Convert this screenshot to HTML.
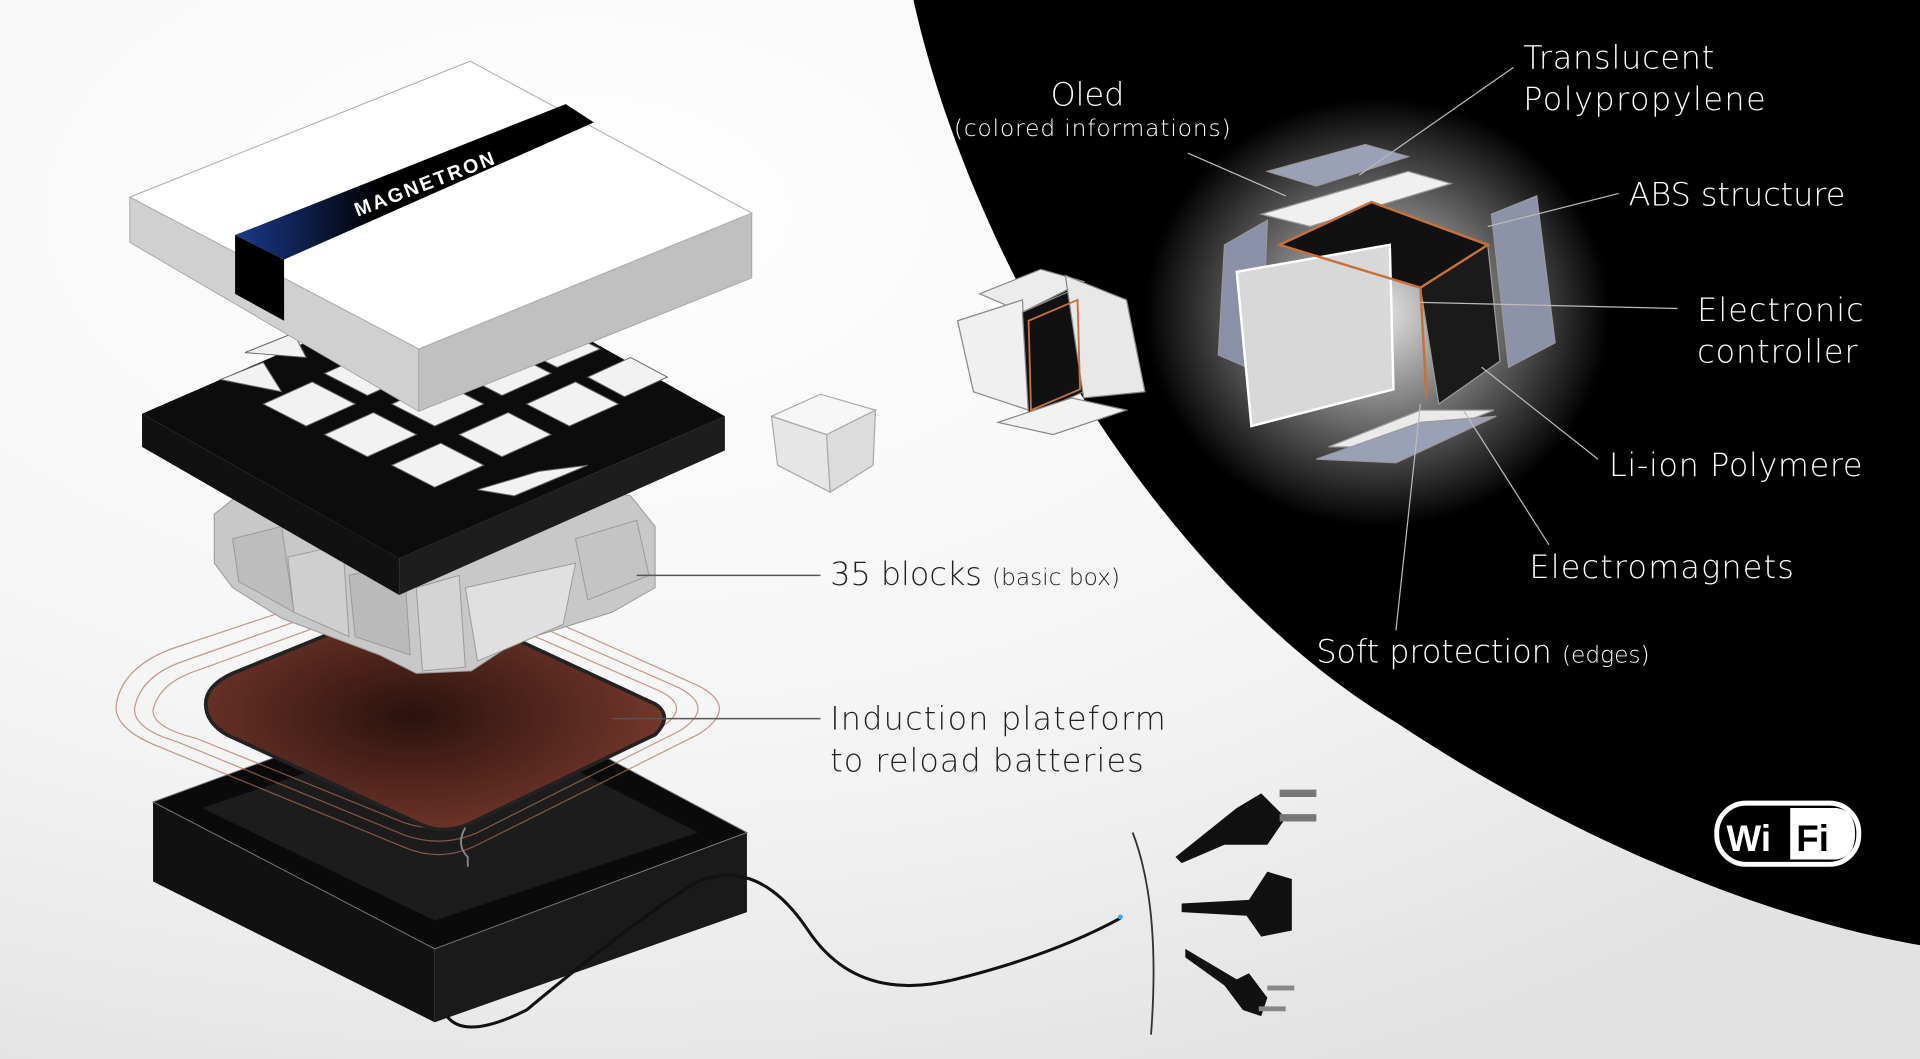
<!DOCTYPE html>
<html><head><meta charset="utf-8"><style>
html,body{margin:0;padding:0;width:1920px;height:1059px;overflow:hidden;background:#fff}
svg{display:block}
text{font-family:"DejaVu Sans","Liberation Sans",sans-serif;font-weight:300}
text.b{font-family:"Liberation Sans",sans-serif;font-weight:bold}
</style></head><body>
<svg width="1920" height="1059" viewBox="0 0 1568 865" preserveAspectRatio="none" xmlns="http://www.w3.org/2000/svg">
<defs>
<radialGradient id="bg" cx="0.3" cy="0.2" r="0.9"><stop offset="0" stop-color="#ffffff"/><stop offset="0.6" stop-color="#f4f4f4"/><stop offset="1" stop-color="#e2e2e2"/></radialGradient>
<radialGradient id="plate" cx="0.45" cy="0.5" r="0.6"><stop offset="0" stop-color="#2a120c"/><stop offset="1" stop-color="#7a3a2e"/></radialGradient>
<radialGradient id="glow" cx="0.5" cy="0.5" r="0.5"><stop offset="0" stop-color="#fff" stop-opacity="0.9"/><stop offset="0.6" stop-color="#fff" stop-opacity="0.35"/><stop offset="1" stop-color="#fff" stop-opacity="0"/></radialGradient>
<linearGradient id="blue" x1="0" y1="0" x2="1" y2="0"><stop offset="0" stop-color="#1a3a8a"/><stop offset="0.4" stop-color="#000"/><stop offset="1" stop-color="#000"/></linearGradient>
</defs>
<rect width="1568" height="865" fill="url(#bg)"/>
<path d="M746,0 C790,200 940,470 1140,590 C1290,690 1450,752 1568,772 L1568,0 Z" fill="#000"/>

<!-- base box -->
<polygon points="125,655 125,720 355,835 355,775" fill="#111"/>
<polygon points="355,775 355,835 610,745 610,680" fill="#1a1a1a"/>
<polygon points="125,655 385,560 610,680 355,775" fill="#0a0a0a" stroke="#777" stroke-width="0.8"/>
<polygon points="165,660 385,585 570,680 355,752" fill="#1c1c1c"/>
<g fill="none" stroke="#b07060" stroke-width="1" opacity="0.7">
<path d="M95,575 Q100,545 140,530 L320,470 Q350,462 380,475 L570,560 Q605,578 570,600 L390,690 Q360,705 330,692 L130,610 Q92,595 95,575Z"/>
<path d="M110,578 Q115,552 150,540 L320,480 Q350,472 380,485 L555,562 Q585,578 555,597 L390,680 Q360,693 330,682 L145,606 Q108,595 110,578Z"/>
<path d="M125,580 Q130,558 160,548 L320,490 Q350,482 380,495 L540,565 Q565,578 540,594 L390,670 Q360,682 330,672 L160,603 Q124,594 125,580Z"/>
</g>
<path d="M168,575 Q168,560 190,550 L325,495 Q345,488 365,496 L535,575 Q550,585 535,600 L385,672 Q365,682 345,674 L185,600 Q168,590 168,575Z" fill="url(#plate)" stroke="#222" stroke-width="3"/>
<path d="M380,676 Q372,690 382,700 L382,708" stroke="#888" fill="none" stroke-width="1.5"/>
<path d="M365,830 Q380,850 430,825 Q520,750 570,720 Q620,700 660,760 Q700,820 780,800 Q860,780 915,750" fill="none" stroke="#111" stroke-width="2.5"/>
<circle cx="915" cy="749" r="2" fill="#3af"/>
<path d="M925,680 Q948,740 940,845" fill="none" stroke="#333" stroke-width="1.5"/>

<!-- blocks ring -->
<g stroke="#999" stroke-width="0.8">
<path d="M175,420 L200,400 L300,385 L420,385 L515,405 L535,430 L535,480 L500,500 L420,525 L385,548 L340,550 L310,535 L230,505 L190,480 L175,460 Z" fill="#c8c8c8"/>
<path d="M190,440 L230,430 L240,500 L195,475Z" fill="#bdbdbd"/>
<path d="M235,455 L280,445 L285,520 L240,500Z" fill="#cfcfcf"/>
<path d="M285,470 L330,460 L335,535 L290,520Z" fill="#bababa"/>
<path d="M340,480 L375,470 L380,545 L345,548Z" fill="#d4d4d4"/>
<path d="M380,480 L470,460 L460,510 L390,540Z" fill="#e0e0e0"/>
<path d="M470,440 L520,425 L530,470 L480,490Z" fill="#c4c4c4"/>
</g>

<!-- grid frame -->
<polygon points="116,338 116,365 326,486 326,456" fill="#111"/>
<polygon points="326,456 326,486 592,368 592,340" fill="#1d1d1d"/>
<polygon points="116,338 382,222 592,340 326,456" fill="#0c0c0c"/>
<g fill="#f2f2f2" stroke="#666" stroke-width="0.8">
<polygon points="215,330 255,312 290,330 250,348"/><polygon points="265,355 305,337 340,355 300,373"/>
<polygon points="320,380 360,362 395,380 355,398"/><polygon points="265,305 305,287 340,305 300,323"/>
<polygon points="320,330 360,312 395,330 355,348"/><polygon points="375,355 415,337 450,355 410,373"/>
<polygon points="320,282 360,264 395,282 355,300"/><polygon points="375,305 415,287 450,305 410,323"/>
<polygon points="430,330 470,312 505,330 465,348"/><polygon points="425,285 460,270 490,285 455,300"/>
<polygon points="480,308 515,292 545,308 510,324"/><polygon points="180,310 215,296 230,320"/>
<polygon points="390,400 440,385 480,380 420,405"/><polygon points="200,288 240,272 250,292"/>
</g>

<!-- lid -->
<polygon points="106,161 106,198 342,336 342,285" fill="#d0d0d0" stroke="#999" stroke-width="0.6"/>
<polygon points="342,285 342,336 614,227 614,174" fill="#c0c0c0" stroke="#999" stroke-width="0.6"/>
<polygon points="106,161 384,50 614,174 342,285" fill="#fff" stroke="#aaa" stroke-width="0.8"/>
<polygon points="192,192 462,85 485,100 232,212" fill="url(#blue)"/>
<polygon points="192,192 232,212 232,262 192,240" fill="#000"/>
<text class="b" x="0" y="0" transform="translate(292,177) rotate(-21)" font-size="16" fill="#fff" letter-spacing="2">MAGNETRON</text>

<!-- small cube -->
<g stroke="#aaa" stroke-width="1">
<polygon points="630,340 670,322 715,335 675,355" fill="#f7f7f7"/>
<polygon points="630,340 675,355 678,402 635,380" fill="#e6e6e6"/>
<polygon points="675,355 715,335 713,380 678,402" fill="#dcdcdc"/>
</g>
<!-- middle cube -->
<g stroke="#888" stroke-width="1">
<polygon points="800,240 850,220 885,230 835,255" fill="#ececec"/>
<polygon points="782,262 835,245 840,335 795,320" fill="#f0f0f0"/>
<polygon points="835,255 880,235 885,320 840,340" fill="#111"/>
<polygon points="870,225 920,245 935,320 885,325" fill="#e8e8e8"/>
<polygon points="815,345 875,325 920,335 860,355" fill="#f2f2f2"/>
</g>
<path d="M840,262 L880,245 L882,318 L842,335 Z" fill="none" stroke="#c8703a" stroke-width="1.5"/>

<!-- big cube -->
<ellipse cx="1125" cy="255" rx="190" ry="175" fill="url(#glow)"/>
<g stroke="#999" stroke-width="1">
<polygon points="1035,140 1115,118 1150,128 1075,152" fill="#9aa0b5"/>
<polygon points="1030,175 1150,140 1185,150 1070,185" fill="#f0f0f0"/>
<polygon points="1000,200 1035,180 1030,305 995,290" fill="#8a90a8"/>
<polygon points="1218,175 1255,160 1270,280 1232,300" fill="#8c92a8"/>
<polygon points="1045,200 1120,165 1215,200 1160,235" fill="#111"/>
<polygon points="1160,235 1215,200 1225,295 1175,330" fill="#1a1a1a"/>
<polygon points="1010,222 1135,200 1138,318 1022,348" fill="#d8d8d8" stroke="#fff" stroke-width="2"/>
<polygon points="1085,365 1160,335 1220,335 1145,365" fill="#eaeaea"/>
<polygon points="1075,375 1160,345 1222,340 1140,378" fill="#9aa0b5"/>
</g>
<path d="M1045,200 L1120,165 L1215,200 L1160,235 Z M1160,235 L1165,325" fill="none" stroke="#c8703a" stroke-width="2"/>

<g stroke="#bbb" stroke-width="1" fill="none">
<line x1="1236" y1="55" x2="1110" y2="143"/>
<line x1="970" y1="125" x2="1050" y2="160"/>
<line x1="1322" y1="158" x2="1215" y2="185"/>
<line x1="1370" y1="252" x2="1160" y2="247"/>
<line x1="1305" y1="375" x2="1210" y2="300"/>
<line x1="1265" y1="445" x2="1195" y2="335"/>
<line x1="1140" y1="515" x2="1160" y2="330"/>
</g>
<g stroke="#555" stroke-width="1.2"><line x1="520" y1="470" x2="670" y2="470"/><line x1="500" y1="587" x2="670" y2="587"/></g>

<g fill="#fff">
<text x="1244" y="56" font-size="26" textLength="156">Translucent</text>
<text x="1244" y="90" font-size="26" textLength="198">Polypropylene</text>
<text x="858" y="86" font-size="26">Oled</text>
<text x="779" y="111" font-size="19" textLength="226">(colored informations)</text>
<text x="1330" y="168" font-size="26" textLength="177">ABS structure</text>
<text x="1386" y="262" font-size="26" textLength="136">Electronic</text>
<text x="1386" y="296" font-size="26" textLength="131">controller</text>
<text x="1314" y="389" font-size="26" textLength="207">Li-ion Polymere</text>
<text x="1249" y="472" font-size="26" textLength="216">Electromagnets</text>
<text x="1075" y="541" font-size="26">Soft protection <tspan font-size="19">(edges)</tspan></text>
</g>
<g fill="#222">
<text x="678" y="478" font-size="26">35 blocks <tspan font-size="19">(basic box)</tspan></text>
<text x="678" y="596" font-size="26" textLength="274">Induction plateform</text>
<text x="678" y="630" font-size="26" textLength="256">to reload batteries</text>
</g>

<g fill="#111">
<path d="M960,700 L1010,660 L1030,648 L1050,668 L1035,690 L1000,690 L965,705Z"/>
<rect x="1045" y="645" width="30" height="6" fill="#777"/><rect x="1045" y="665" width="30" height="6" fill="#777"/>
<path d="M965,738 L1020,735 L1035,712 L1055,718 L1055,760 L1030,765 L1018,748 L965,745Z"/>
<path d="M968,775 L1010,800 L1020,795 L1035,815 L1030,830 L1015,825 L1000,805 L968,782Z"/>
<rect x="1035" y="805" width="22" height="4" fill="#888"/><rect x="1028" y="822" width="22" height="4" fill="#888"/>
</g>

<rect x="1402" y="656" width="116" height="50" rx="24" fill="#000" stroke="#fff" stroke-width="4"/>
<path d="M1462,660 L1500,660 Q1515,662 1515,681 Q1515,700 1500,702 L1462,702 Z" fill="#fff"/>
<text class="b" x="1410" y="695" font-size="30" fill="#fff">Wi</text>
<text class="b" x="1467" y="695" font-size="30" fill="#000">Fi</text>
</svg>
</body></html>
